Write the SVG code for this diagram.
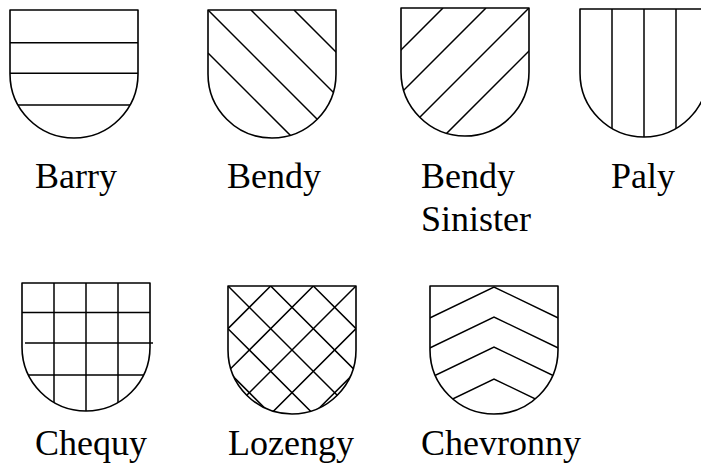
<svg xmlns="http://www.w3.org/2000/svg" width="701" height="473" viewBox="0 0 701 473">
<style>
.outline{fill:none;stroke:#000;stroke-width:1.6;stroke-linejoin:round}
.hatch{fill:none;stroke:#000;stroke-width:1.5}
.label{font-family:"Liberation Serif","Times New Roman",serif;font-size:36px;fill:#000}
</style>
<defs>
<path id="shield" d="M0,0 H128 V64 A64,64 0 0 1 0,64 Z"/>
<clipPath id="shieldClip" clipPathUnits="userSpaceOnUse">
<path d="M0,0 H128 V64 A64,64 0 0 1 0,64 Z"/>
</clipPath>
</defs>
<rect width="701" height="473" fill="#fff"/>

<g id="barry">
<g transform="translate(10,10)">
<g class="hatch" clip-path="url(#shieldClip)">
<path d="M0,32.7 H128 M0,63.3 H128 M0,95 H128"/>
</g>
<use href="#shield" class="outline"/>
</g>
<text class="label" x="35" y="188">Barry</text>
</g>

<g id="bendy">
<g transform="translate(208,10)">
<g class="hatch" clip-path="url(#shieldClip)">
<path d="M0,43 L200,243 M0,0 L200,200 M43,0 L243,200 M86,0 L286,200"/>
</g>
<use href="#shield" class="outline"/>
</g>
<text class="label" x="227" y="188">Bendy</text>
</g>

<g id="bendy-sinister">
<g transform="translate(401,8)">
<g class="hatch" clip-path="url(#shieldClip)">
<path d="M42,0 L-158,200 M85,0 L-115,200 M128,0 L-72,200 M171,0 L-29,200"/>
</g>
<use href="#shield" class="outline"/>
</g>
<text class="label" x="421" y="188">Bendy</text>
<text class="label" x="421" y="231">Sinister</text>
</g>

<g id="paly">
<g transform="translate(580,9)">
<g class="hatch" clip-path="url(#shieldClip)">
<path d="M32,0 V130 M64,0 V130 M96,0 V130"/>
</g>
<use href="#shield" class="outline"/>
</g>
<text class="label" x="611" y="188">Paly</text>
</g>

<g id="chequy">
<g transform="translate(22,283)">
<g class="hatch" clip-path="url(#shieldClip)">
<path d="M32,0 V130 M64,0 V130 M96,0 V130 M0,29.5 H128 M3,92 H128"/>
</g>
<path class="hatch" d="M3,60 H131"/>
<use href="#shield" class="outline"/>
</g>
<text class="label" x="35" y="455">Chequy</text>
</g>

<g id="lozengy">
<g transform="translate(228,286)">
<g class="hatch" clip-path="url(#shieldClip)">
<path d="M0,85.33 L200,285.33 M0,42.67 L200,242.67 M0,0 L200,200 M42.67,0 L242.67,200 M85.33,0 L285.33,200 M128,0 L328,200"/>
<path d="M0,42.67 L42.67,0 M0,85.33 L85.33,0 M0,128 L128,0 M-72,242.67 L170.67,0 M-72,285.33 L213.33,0 M-72,328 L256,0"/>
</g>
<use href="#shield" class="outline"/>
</g>
<text class="label" x="228" y="455">Lozengy</text>
</g>

<g id="chevronny">
<g transform="translate(430,286)">
<g class="hatch" clip-path="url(#shieldClip)">
<path d="M-10,36.7 L64,1 L138,36.7 M-10,66.7 L64,31 L138,66.7 M-10,96.7 L64,61 L138,96.7 M-10,128.7 L64,93 L138,128.7"/>
</g>
<use href="#shield" class="outline"/>
</g>
<text class="label" x="421" y="455">Chevronny</text>
</g>
</svg>
